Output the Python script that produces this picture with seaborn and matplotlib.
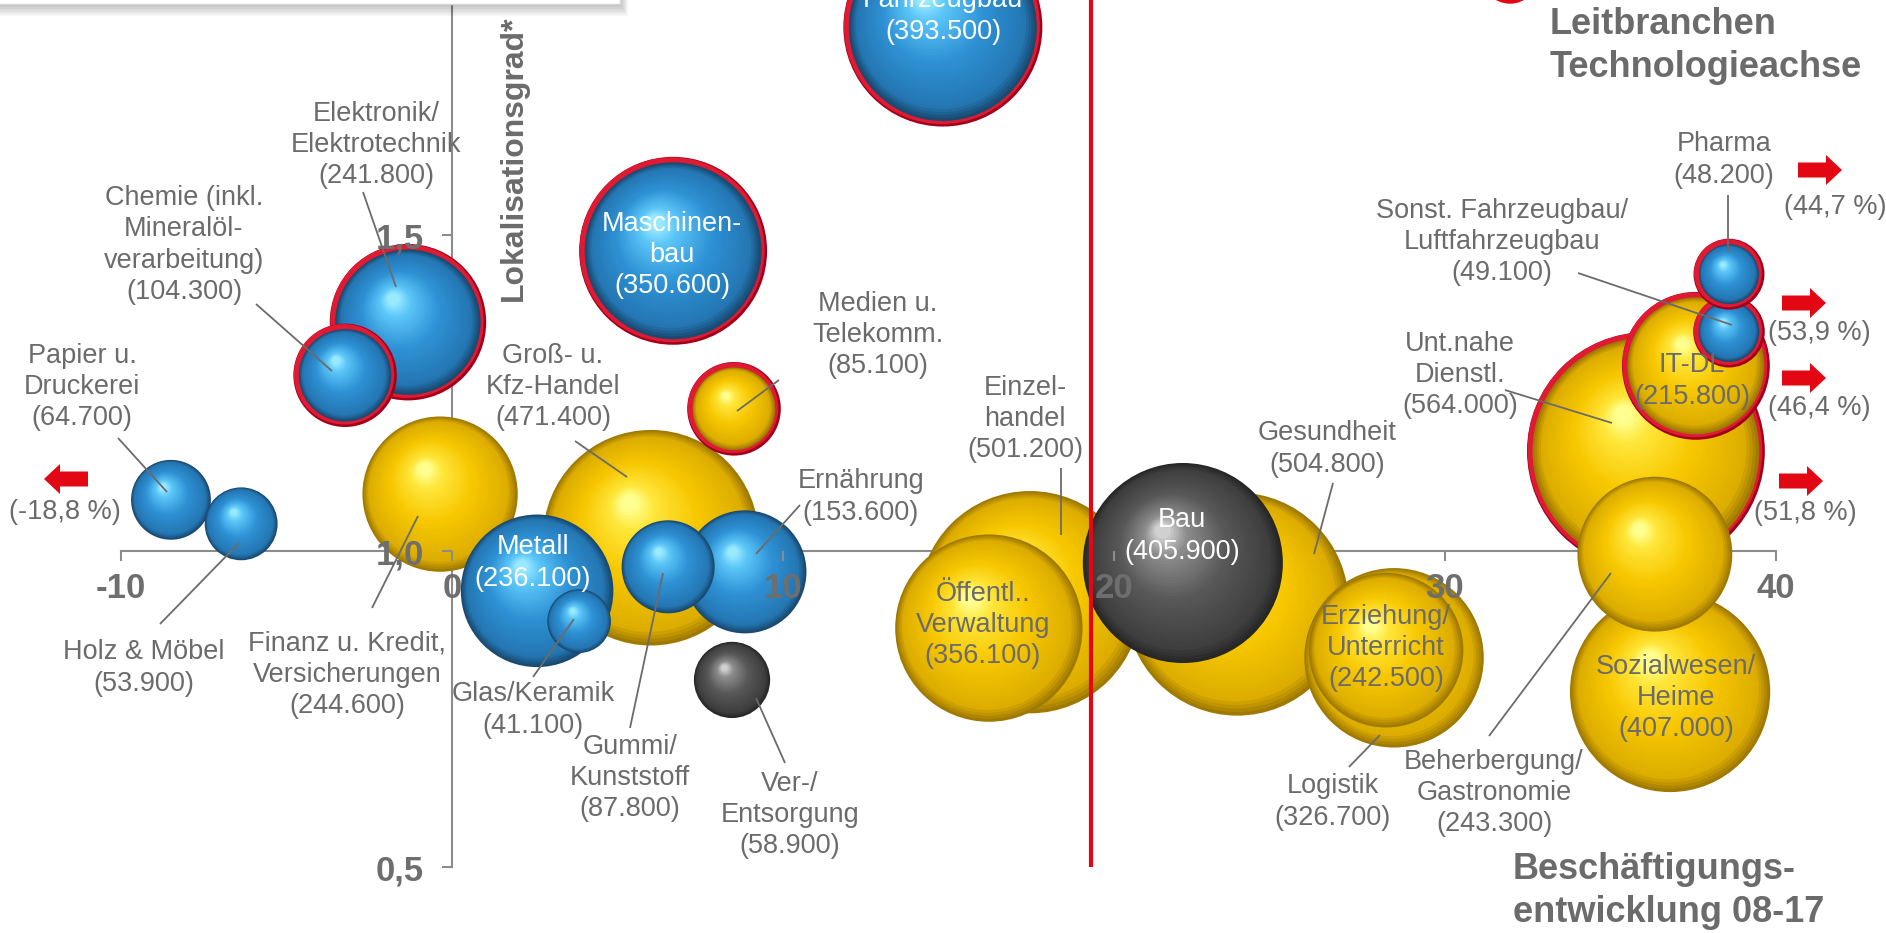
import numpy as np
import pandas as pd
import matplotlib
matplotlib.use("Agg")
import matplotlib.pyplot as plt
import seaborn as sns
from matplotlib.colors import LinearSegmentedColormap, to_hex
from matplotlib.patches import Rectangle, Ellipse, FancyArrow
from matplotlib.transforms import IdentityTransform

W, H = 1886, 933

# Branchen in Zeichenreihenfolge (hinten -> vorne)
branchen = [
    "Papier u.\nDruckerei", "Holz & Möbel", "Elektronik/\nElektrotechnik",
    "Chemie (inkl.\nMineralöl-\nverarbeitung)", "Finanz u. Kredit,\nVersicherungen",
    "Groß- u.\nKfz-Handel", "Metall", "Glas/Keramik", "Ernährung", "Gummi/\nKunststoff",
    "Ver-/\nEntsorgung", "Maschinen-\nbau", "Medien u.\nTelekomm.", "Fahrzeugbau",
    "Einzel-\nhandel", "Öffentl..\nVerwaltung", "Gesundheit", "Bau", "Logistik",
    "Erziehung/\nUnterricht", "Unt.nahe\nDienstl.", "IT-DL",
    "Sonst. Fahrzeugbau/\nLuftfahrzeugbau", "Pharma", "Sozialwesen/\nHeime",
    "Beherbergung/\nGastronomie",
]
beschaeftigte = [64700, 53900, 241800, 104300, 244600, 471400, 236100, 41100, 153600,
                 87800, 58900, 350600, 85100, 393500, 501200, 356100, 504800, 405900,
                 326700, 242500, 564000, 215800, 49100, 48200, 407000, 243300]
entwicklung = [-8.49, -6.37, -1.33, -3.23, -0.36, 6.01, 2.57, 3.84, 8.85, 6.53, 8.46,
               6.68, 8.52, 14.83, 17.46, 16.22, 23.72, 22.08, 28.46, 28.22, 36.07,
               37.58, 38.58, 38.58, 36.80, 36.34]
lokalisation = [1.081, 1.043, 1.362, 1.278, 1.090, 1.021, 0.937, 0.889, 0.967, 0.975,
                0.796, 1.475, 1.225, 1.829, 0.919, 0.878, 0.916, 0.981, 0.831, 0.843,
                1.158, 1.293, 1.347, 1.438, 0.777, 0.995]
gruppe = ["ind", "ind", "ind", "ind", "dl", "dl", "ind", "ind", "ind", "ind", "grau",
          "ind", "dl", "ind", "dl", "dl", "dl", "grau", "dl", "dl", "dl", "dl", "ind",
          "ind", "dl", "dl"]
leitbranche = [False, False, True, True, False, False, False, False, False, False, False,
               True, True, True, False, False, False, False, False, False, True, True,
               True, True, False, False]

x_ticks = [-10, 0, 10, 20, 30, 40]
x_ticklabels = ["-10", "0", "10", "20", "30", "40"]
y_ticks = [0.5, 1.0, 1.5]
y_ticklabels = ["0,5", "1,0", "1,5"]
schwelle = 19.3
aussen_werte = ["(44,7 %)", "(53,9 %)", "(46,4 %)", "(51,8 %)", "(-18,8 %)"]

# layout (pixel positions in the image, y from top)
label_pos = [(82, 387), (144, 668), (376, 145), (184, 245), (347, 675), (553, 387),
             (533, 563), (533, 710), (861, 497), (630, 778), (790, 815), (672, 255),
             (878, 335), (943, 16), (1025, 419), (983, 625), (1327, 449), (1182, 536),
             (1333, 802), (1386, 648), (1460, 375), (1692, 381), (1502, 242),
             (1724, 160), (1676, 698), (1494, 793)]
white_labels = {"Metall", "Maschinen-\nbau", "Fahrzeugbau", "Bau"}
leaders = [((118, 438), (167, 492)), ((160, 624), (239, 543)), ((363, 192), (396, 287)),
           ((256, 304), (332, 371)), ((372, 608), (418, 516)), ((575, 441), (627, 477)),
           None, ((533, 677), (574, 619)), ((800, 505), (756, 554)),
           ((630, 728), (663, 573)), ((785, 763), (756, 698)), None,
           ((779, 380), (737, 411)), None, ((1061, 468), (1061, 535)), None,
           ((1333, 483), (1314, 554)), None, ((1349, 767), (1380, 735)), None,
           ((1505, 390), (1612, 423)), None, ((1578, 273), (1732, 325)),
           ((1728, 195), (1728, 252)), None, ((1489, 736), (1611, 573))]
arrows = [(1798, 170, 44), (1782, 303, 44), (1782, 378, 44), (1779, 481, 44), (88, 479, -44)]
pct_pos = [(1835, 207), (1819, 333), (1819, 408), (1805, 513), (65, 512)]

GREY = "#6b6b6b"
AXIS = "#8c8c8c"
RED = "#e30613"
K = 0.314  # px diameter per sqrt(employees)

shades = {
    "ind": LinearSegmentedColormap.from_list("ind", [(0, "#1a4a70"), (0.1, "#2476b2"), (0.5, "#2e92d5"), (0.85, "#5cc6f8"), (1, "#9aeaff")]),
    "dl": LinearSegmentedColormap.from_list("dl", [(0, "#a07a00"), (0.1, "#dcad00"), (0.5, "#f7c700"), (0.85, "#ffe63a"), (1, "#ffff90")]),
    "grau": LinearSegmentedColormap.from_list("grau", [(0, "#272727"), (0.1, "#3e3e3e"), (0.5, "#585858"), (0.85, "#8d8d8d"), (1, "#d0d0d0")]),
}


def frac(p):
    return p[0] / W, 1 - p[1] / H


sns.set_theme(style="white")
plt.rcParams["font.family"] = ["Liberation Sans", "DejaVu Sans"]

fig = plt.figure(figsize=(W / 100, H / 100), dpi=100)
ax = fig.add_axes([0, 0, 1, 1])
ax.set_xlim(-452 / 33.1, (W - 452) / 33.1)
ax.set_ylim(1 - (H - 551) / 632, 1 + 551 / 632)

# build shaded sphere layers (one collection keeps the overlap order)
inv = ax.transData.inverted()
rows = []
n_layers = 40
for i, name in enumerate(branchen):
    d = K * np.sqrt(beschaeftigte[i])
    cx, cy = ax.transData.transform((entwicklung[i], lokalisation[i]))
    layers = []
    if leitbranche[i]:
        layers.append((0, 0, d + 2, "#a0001c"))
        layers.append((-1, 1, d - 1, "#e01a32"))
        d_in = d - 9
    else:
        d_in = d
    r = d_in / 2
    for t in np.linspace(0, 1, n_layers):
        layers.append((-0.2 * r * t, 0.32 * r * t, d_in * (1 - 0.92 * t), to_hex(shades[gruppe[i]](t))))
    for ox, oy, dd, col in layers:
        xd, yd = inv.transform((cx + ox, cy + oy))
        rows.append({"x": xd, "y": yd, "farbe": col, "flaeche": (dd * 0.72) ** 2})
df = pd.DataFrame(rows)
amin, amax = df["flaeche"].min(), df["flaeche"].max()
sns.scatterplot(data=df, x="x", y="y", hue="farbe", palette={c: c for c in df["farbe"].unique()},
                size="flaeche", sizes=(amin, amax), size_norm=(amin, amax),
                linewidth=0, legend=False, ax=ax, zorder=2)

# axes
for side in ["top", "right"]:
    ax.spines[side].set_visible(False)
ax.spines["bottom"].set_position(("data", 1.0))
ax.spines["bottom"].set_bounds(-10, 40)
ax.spines["left"].set_position(("data", 0))
ax.spines["left"].set_bounds(0.5, 2.0)
for side in ["bottom", "left"]:
    ax.spines[side].set_color(AXIS)
    ax.spines[side].set_linewidth(1.5)
    ax.spines[side].set_zorder(0.5)
ax.set_xticks(x_ticks)
ax.set_xticklabels(x_ticklabels)
ax.set_yticks(y_ticks)
ax.set_yticklabels(y_ticklabels)
ax.tick_params(axis="x", direction="out", length=7, width=1.5, color=AXIS, pad=8,
               labelsize=25, labelcolor="#6e6e6e", bottom=True)
ax.tick_params(axis="y", direction="out", length=7, width=1.5, color=AXIS, pad=13,
               labelsize=25, labelcolor="#6e6e6e", left=True)
for lab in ax.get_xticklabels() + ax.get_yticklabels():
    lab.set_fontweight("bold")
ax.xaxis.set_zorder(6)
ax.yaxis.set_zorder(6)
ax.set_xlabel("")
ax.set_ylabel("")
ax.grid(False)

# threshold line
ax.vlines(schwelle, 0.5, 2.0, color=RED, lw=3, zorder=9)

# bubble labels + leader lines
for i, name in enumerate(branchen):
    num = f"{beschaeftigte[i]:,}".replace(",", ".")
    col = "white" if name in white_labels else GREY
    fx, fy = frac(label_pos[i])
    ax.text(fx, fy, f"{name}\n({num})", transform=ax.transAxes, ha="center", va="center",
            fontsize=19.5, color=col, linespacing=1.27, zorder=10)
    if leaders[i] is not None:
        (a, b) = leaders[i]
        fa, fb = frac(a), frac(b)
        ax.plot([fa[0], fb[0]], [fa[1], fb[1]], transform=ax.transAxes, color=GREY,
                lw=1.3, zorder=8, solid_capstyle="butt")

# off-chart arrows
for (x0, y0, dx), txt, (tx, ty) in zip(arrows, aussen_werte, pct_pos):
    ax.add_patch(FancyArrow(x0, H - y0, dx, 0, width=15, head_width=30, head_length=16,
                            length_includes_head=True, transform=IdentityTransform(),
                            color=RED, lw=0, zorder=9))
    fx, fy = frac((tx, ty))
    ax.text(fx, fy, txt, transform=ax.transAxes, ha="center", va="center",
            fontsize=19.5, color=GREY, zorder=10)

# axis titles
fx, fy = frac((514, 158))
ax.text(fx, fy, "Lokalisationsgrad*", transform=ax.transAxes, rotation=90, ha="center",
        va="center", fontsize=23, fontweight="bold", color=GREY, zorder=10)
fx, fy = frac((1513, 891))
ax.text(fx, fy, "Beschäftigungs-\nentwicklung 08-17", transform=ax.transAxes, ha="left",
        va="center", fontsize=26, fontweight="bold", color=GREY, linespacing=1.3, zorder=10)
fx, fy = frac((1550, 46))
ax.text(fx, fy, "Leitbranchen\nTechnologieachse", transform=ax.transAxes, ha="left",
        va="center", fontsize=26, fontweight="bold", color=GREY, linespacing=1.27, zorder=10)
ax.add_patch(Ellipse(frac((1510, -25)), 56 / W, 56 / H, transform=ax.transAxes,
                     color=RED, zorder=10, clip_on=False))

# cut-off legend box top left
for i in range(1, 9):
    ax.add_patch(Rectangle((-0.01, 1 - (4 + 1.5 * i) / H), (620 + i) / W + 0.01, 0.1,
                           transform=ax.transAxes, facecolor="black", alpha=0.03, lw=0,
                           zorder=11, clip_on=False))
ax.add_patch(Rectangle((-0.01, 1 - 4 / H), 620 / W + 0.01, 0.1, transform=ax.transAxes,
                       facecolor="white", edgecolor="#d5d5d5", lw=1, zorder=12, clip_on=False))

fig.savefig("out.png", dpi=100)
